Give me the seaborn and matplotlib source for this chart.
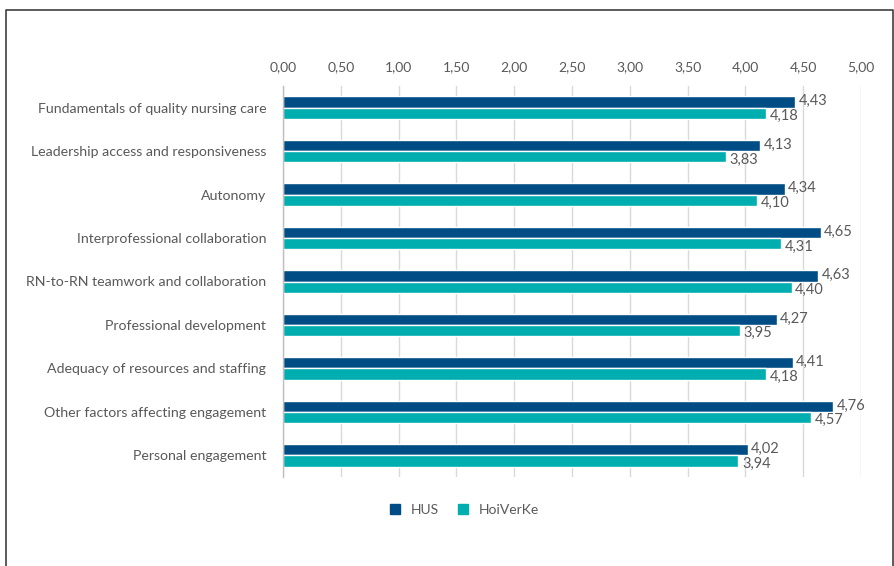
import matplotlib
matplotlib.use("Agg")
import matplotlib.pyplot as plt
import seaborn as sns
import pandas as pd
from matplotlib.lines import Line2D

categories = [
    "Fundamentals of quality nursing care",
    "Leadership access and responsiveness",
    "Autonomy",
    "Interprofessional collaboration",
    "RN-to-RN teamwork and collaboration",
    "Professional development",
    "Adequacy of resources and staffing",
    "Other factors affecting engagement",
    "Personal engagement",
]
hus = [4.43, 4.13, 4.34, 4.65, 4.63, 4.27, 4.41, 4.76, 4.02]
hoiverke = [4.18, 3.83, 4.10, 4.31, 4.40, 3.95, 4.18, 4.57, 3.94]
series = ["HUS", "HoiVerKe"]
colors = ["#004C84", "#00AEB0"]
xticks = [0, 0.5, 1, 1.5, 2, 2.5, 3, 3.5, 4, 4.5, 5]

df = pd.DataFrame({
    "category": categories * 2,
    "value": hus + hoiverke,
    "series": [series[0]] * len(categories) + [series[1]] * len(categories),
})

sns.set_theme(style="white")
plt.rcParams["font.family"] = ["Lato", "DejaVu Sans"]
text_color = "#595959"

fig = plt.figure(figsize=(8.95, 5.66), dpi=100)
ax = fig.add_axes([283/895, 1-477/566, (861-283)/895, (477-86)/566])

sns.barplot(data=df, y="category", x="value", hue="series", order=categories,
            hue_order=series, palette=colors, orient="h", width=0.52,
            ax=ax, legend=False, saturation=1)

ax.set_xlim(0, 5)
ax.set_xticks(xticks)
ax.set_xticklabels([f"{t:.2f}".replace(".", ",") for t in xticks],
                   fontsize=10, color=text_color)
ax.xaxis.tick_top()
ax.tick_params(axis="x", length=0, pad=9.5)
ax.tick_params(axis="y", length=0, pad=12, labelsize=10.2, labelcolor=text_color)
ax.set_xlabel("")
ax.set_ylabel("")
ax.grid(axis="x", color="#D9D9D9", linewidth=1)
ax.set_axisbelow(True)
for s in ["top", "right", "bottom"]:
    ax.spines[s].set_visible(False)
ax.spines["left"].set_color("#BFBFBF")
ax.spines["left"].set_linewidth(1)

for cont, vals, dy in zip(ax.containers, [hus, hoiverke], [0.5, -2]):
    for bar, v in zip(cont.patches, vals):
        y = bar.get_y() + bar.get_height() / 2
        ax.annotate(f"{v:.2f}".replace(".", ","), (bar.get_width(), y),
                    xytext=(2.5, dy), textcoords="offset points",
                    va="center", ha="left", fontsize=10.5, color=text_color)

handles = [Line2D([0], [0], marker="s", linestyle="", markersize=6.5,
                  markerfacecolor=c, markeredgecolor=c) for c in colors]
fig.legend(handles, series, loc="center", bbox_to_anchor=(460/895, 1-510/566),
           ncol=2, frameon=False, fontsize=10, labelcolor=text_color,
           handletextpad=0.1, columnspacing=0.8)

border = Line2D([6/895, 6/895, 893/895, 893/895], [0, 1-10/566, 1-10/566, 0],
                transform=fig.transFigure, color="#404040", linewidth=1.2)
fig.add_artist(border)

fig.savefig("out.png", dpi=100)
